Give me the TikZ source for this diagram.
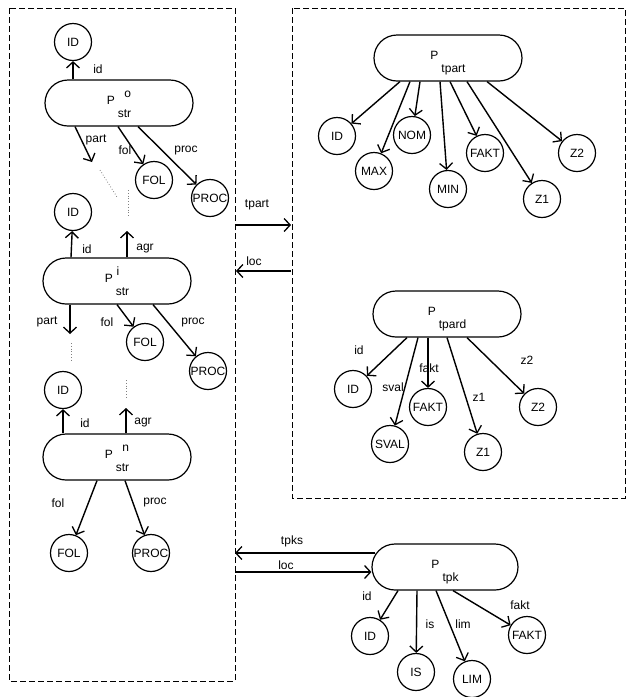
\documentclass[tikz,border=0pt]{standalone}
\usepackage{fontspec}
\setmainfont{Liberation Sans}
\usetikzlibrary{arrows.meta}
\usetikzlibrary{shapes.misc}
\tikzset{
	>={Straight Barb[length=6pt,width=13pt,line width=1.3pt]},
	oval/.style={
		rounded rectangle,
		draw=black, line width=1.2pt,
		minimum width=148pt,
		minimum height=46pt,
		inner sep=0pt,
		font=\fontsize{12}{13}\selectfont},
	kreis/.style={
		circle,
		draw=black, line width=1.2pt,
		minimum size=37pt,
		inner sep=0pt,
		font=\fontsize{12}{13}\selectfont},
	pfeil/.style={draw, ->, line width=1.4pt},
	marke/.style={font=\fontsize{12}{13}\selectfont, inner sep=1pt},
	punkte/.style={draw=gray, dotted, line width=0.8pt},
	rahmen/.style={draw=black, dash pattern=on 6pt off 3pt, line width=0.8pt},
}
\newcommand{\pname}[2]{\smash{\raisebox{-1.5pt}{P}\hspace{3pt}\raisebox{-14pt}{#2}\llap{\raisebox{6pt}{#1}}}}

\begin{document}
\begin{tikzpicture}[x=1pt,y=-1pt]
	\useasboundingbox (0,0) rectangle (630,697);
	% Rahmen
	\draw[rahmen] (9,8) rectangle (235,681);
	\draw[rahmen] (292,8) rectangle (625,498);

	% P str o
	\node[oval] (pnull) at (119,103) {\pname{o}{str}};
	\node[kreis] (idnull) at (73,42) {ID};
	\node[kreis] (folnull) at (154,180) {FOL};
	\node[kreis] (procnull) at (210,198) {PROC};
	\coordinate (partnull) at (92,162);
	\draw[pfeil] ([xshift=-46pt]pnull.north) -- (idnull);
	\draw[pfeil] ([xshift=-44pt]pnull.south) -- (partnull);
	\draw[pfeil] ([xshift=-1pt]pnull.south) -- (folnull);
	\draw[pfeil] ([xshift=19pt]pnull.south) -- (procnull);
	\node[marke] (l-idnull) at (98,69) {id};
	\node[marke] (l-partnull) at (96,140) {part};
	\node[marke] (l-folnull) at (125,150) {fol};
	\node[marke] (l-procnull) at (186,151) {proc};
	\draw[punkte] (100,170) -- (117,197);
	\draw[punkte] (128,190) -- (128,217);

	% P str i
	\node[oval] (peins) at (117,281) {\pname{i\hspace{10pt}}{str}};
	\node[kreis] (ideins) at (73,212) {ID};
	\node[kreis] (foleins) at (145,342) {FOL};
	\node[kreis] (proceins) at (208,371) {PROC};
	\coordinate (agreins) at (127,231);
	\coordinate (parteins) at (70,334);
	\draw[pfeil] ([xshift=-46pt]peins.north) -- (ideins);
	\draw[pfeil] ([xshift=10pt]peins.north) -- (agreins);
	\draw[pfeil] ([xshift=-47pt]peins.south) -- (parteins);
	\draw[pfeil] ([xshift=0pt]peins.south) -- (foleins);
	\draw[pfeil] ([xshift=36pt]peins.south) -- (proceins);
	\node[marke] (l-ideins) at (87,249) {id};
	\node[marke] (l-agreins) at (145,249) {agr};
	\node[marke] (l-parteins) at (47,322) {part};
	\node[marke] (l-foleins) at (107,322) {fol};
	\node[marke] (l-proceins) at (193,323) {proc};
	\draw[punkte] (71,343) -- (71,360);
	\draw[punkte] (126,380) -- (126,397);

	% P str n
	\node[oval] (pn) at (117,457) {\pname{n}{str}};
	\node[kreis] (idn) at (63,390) {ID};
	\node[kreis] (foln) at (69,553) {FOL};
	\node[kreis] (procn) at (151,553) {PROC};
	\coordinate (agrn) at (126,408);
	\draw[pfeil] ([xshift=-54pt]pn.north) -- (idn);
	\draw[pfeil] ([xshift=9pt]pn.north) -- (agrn);
	\draw[pfeil] ([xshift=-20pt]pn.south) -- (foln);
	\draw[pfeil] ([xshift=8pt]pn.south) -- (procn);
	\node[marke] (l-idn) at (85,423) {id};
	\node[marke] (l-agrn) at (143,423) {agr};
	\node[marke] (l-foln) at (58,503) {fol};
	\node[marke] (l-procn) at (155,503) {proc};

	% tpart / loc zwischen den Rahmen
	\coordinate (tpart-a) at (236,225);
	\coordinate (tpart-b) at (291,225);
	\coordinate (loc-a) at (291,271);
	\coordinate (loc-b) at (236,271);
	\draw[pfeil] (tpart-a) -- (tpart-b);
	\draw[pfeil] (loc-a) -- (loc-b);
	\node[marke] (l-tpart) at (257,205) {tpart};
	\node[marke] (l-loc) at (254,261) {loc};

	% P tpart
	\node[oval] (tpart) at (448,58) {\pname{}{tpart}};
	\node[kreis] (t-id) at (337,136) {ID};
	\node[kreis] (t-max) at (374,171) {MAX};
	\node[kreis] (t-nom) at (412,135) {NOM};
	\node[kreis] (t-min) at (448,189) {MIN};
	\node[kreis] (t-fakt) at (485,153) {FAKT};
	\node[kreis] (t-zeins) at (542,199) {Z1};
	\node[kreis] (t-zzwei) at (577,153) {Z2};
	\draw[pfeil] ([xshift=-48pt]tpart.south) -- (t-id);
	\draw[pfeil] ([xshift=-38pt]tpart.south) -- (t-max);
	\draw[pfeil] ([xshift=-28pt]tpart.south) -- (t-nom);
	\draw[pfeil] ([xshift=-8pt]tpart.south) -- (t-min);
	\draw[pfeil] ([xshift=2pt]tpart.south) -- (t-fakt);
	\draw[pfeil] ([xshift=19pt]tpart.south) -- (t-zeins);
	\draw[pfeil] ([xshift=39pt]tpart.south) -- (t-zzwei);

	% P tpard
	\node[oval] (tpard) at (447,314) {\pname{}{tpard}};
	\node[kreis] (d-id) at (353,389) {ID};
	\node[kreis] (d-sval) at (390,444) {SVAL};
	\node[kreis] (d-fakt) at (428,407) {FAKT};
	\node[kreis] (d-zeins) at (483,452) {Z1};
	\node[kreis] (d-zzwei) at (538,407) {Z2};
	\draw[pfeil] ([xshift=-40pt]tpard.south) -- (d-id);
	\draw[pfeil] ([xshift=-29pt]tpard.south) -- (d-sval);
	\draw[pfeil] ([xshift=-19pt]tpard.south) -- (d-fakt);
	\draw[pfeil] ([xshift=0pt]tpard.south) -- (d-zeins);
	\draw[pfeil] ([xshift=20pt]tpard.south) -- (d-zzwei);
	\node[marke] (l-did) at (359,350) {id};
	\node[marke] (l-dsval) at (393,387) {sval};
	\node[marke] (l-dfakt) at (429,368) {fakt};
	\node[marke] (l-dzeins) at (479,397) {z1};
	\node[marke] (l-dzzwei) at (527,360) {z2};

	% P tpk
	\node[oval, minimum width=146pt] (tpk) at (445,567) {\pname{}{tpk}};
	\node[kreis] (k-id) at (370,636) {ID};
	\node[kreis] (k-is) at (416,672) {IS};
	\node[kreis] (k-lim) at (472,679) {LIM};
	\node[kreis] (k-fakt) at (527,635) {FAKT};
	\draw[pfeil] ([xshift=-47pt]tpk.south) -- (k-id);
	\draw[pfeil] ([xshift=-28pt]tpk.south) -- (k-is);
	\draw[pfeil] ([xshift=-9pt]tpk.south) -- (k-lim);
	\draw[pfeil] ([xshift=8pt]tpk.south) -- (k-fakt);
	\node[marke] (l-kid) at (367,596) {id};
	\node[marke] (l-kis) at (430,624) {is};
	\node[marke] (l-klim) at (463,624) {lim};
	\node[marke] (l-kfakt) at (520,605) {fakt};

	% tpks / loc
	\coordinate (tpks-b) at (235,553);
	\coordinate (locz-a) at (235,572);
	\draw[pfeil] ([xshift=4pt,yshift=14pt]tpk.west) -- (tpks-b);
	\draw[pfeil] (locz-a) -- ([yshift=-5pt]tpk.west);
	\node[marke] (l-tpks) at (292,541) {tpks};
	\node[marke] (l-locz) at (286,565) {loc};
\end{tikzpicture}
\end{document}
